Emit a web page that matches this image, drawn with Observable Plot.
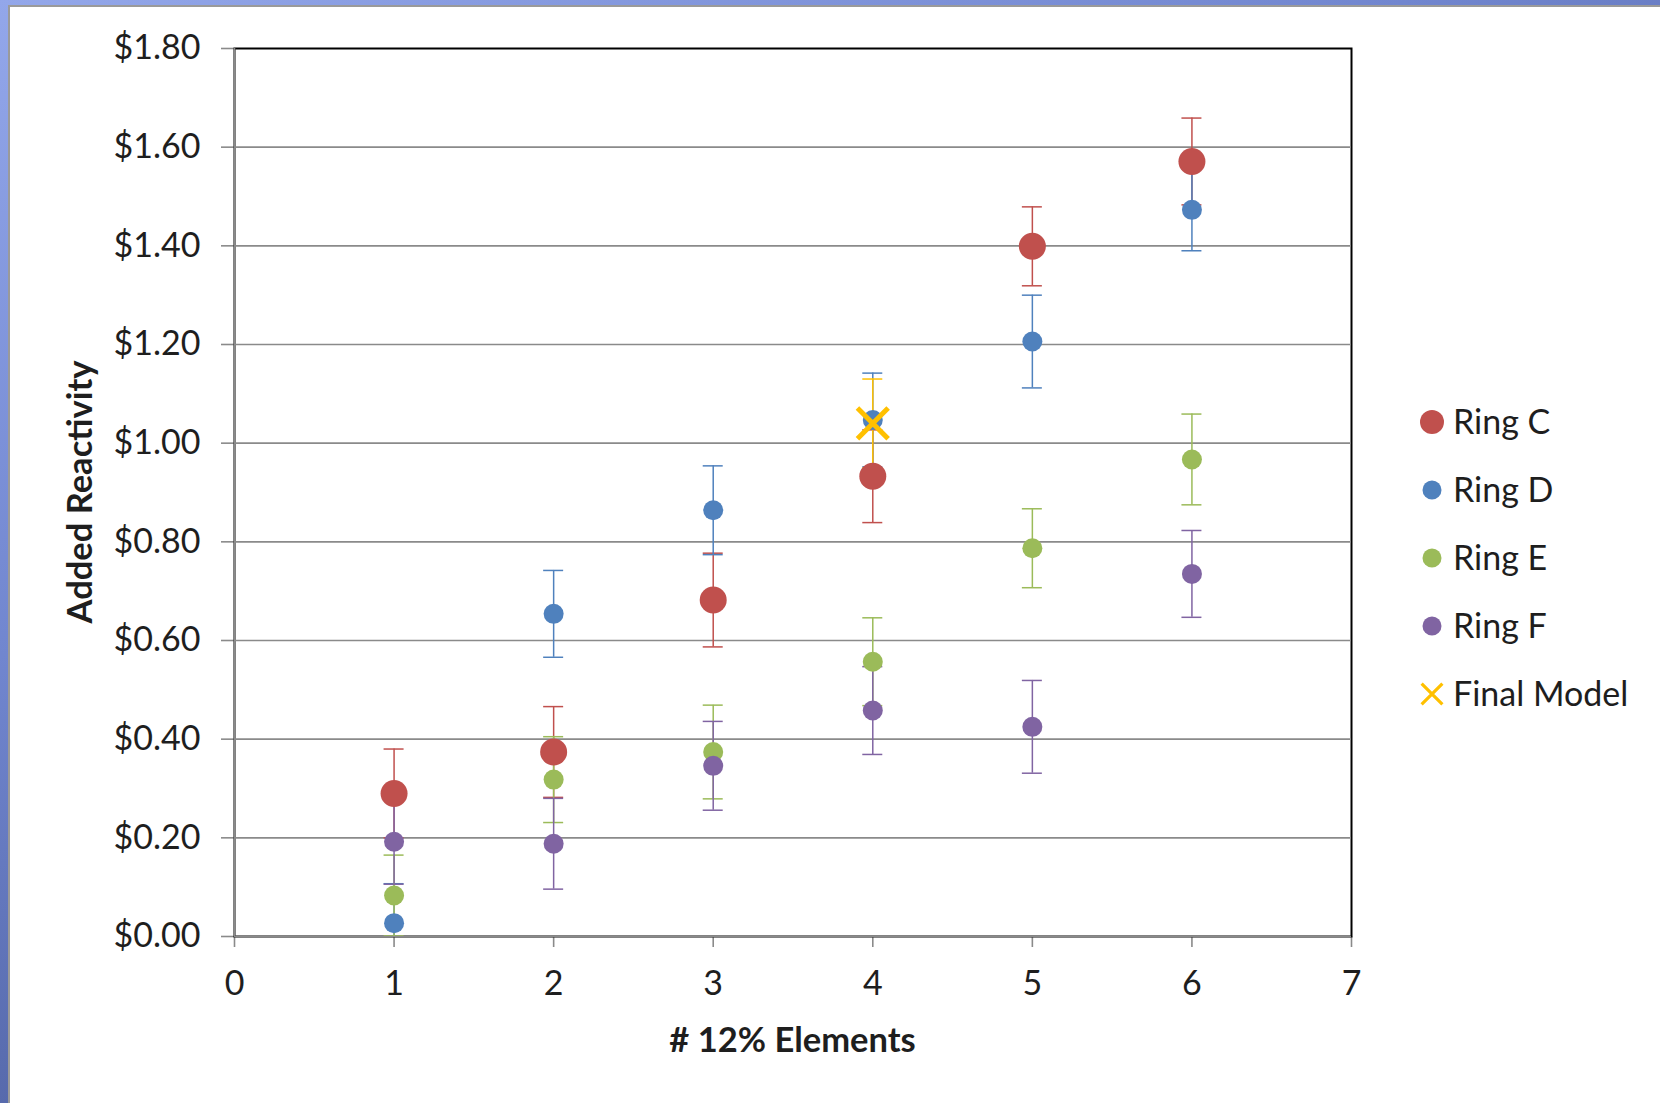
<!DOCTYPE html>
<html>
<head>
<meta charset="utf-8">
<script src="https://cdn.jsdelivr.net/npm/d3@7"></script>
<script src="https://cdn.jsdelivr.net/npm/@observablehq/plot@0.6"></script>
<style>
  html, body { margin: 0; padding: 0; width: 1660px; height: 1103px; overflow: hidden; }
  body { background: linear-gradient(155deg, #93a7ea 0%, #7186cf 35%, #4b5d9c 70%, #3a4a82 100%); position: relative; }
  #frame { position: absolute; left: 8px; top: 5px; width: 1652px; height: 1098px;
           border-left: 2px solid #9a9a9a; border-top: 2px solid #9a9a9a; background: #fff; }
  #chart { position: absolute; left: 0; top: 0; }
</style>
</head>
<body>
<div id="frame"><div id="chart"></div></div>
<script>
// ---- data ----
const xValues = [1, 2, 3, 4, 5, 6];
const ringC = [0.290, 0.374, 0.682, 0.933, 1.399, 1.571];
const ringD = [0.027, 0.654, 0.864, 1.047, 1.206, 1.473];
const ringE = [0.083, 0.318, 0.374, 0.557, 0.787, 0.967];
const ringF = [0.192, 0.188, 0.346, 0.458, 0.425, 0.735];
const ringCErr = [0.090, 0.092, 0.095, 0.094, 0.080, 0.088];
const ringDErr = [0.080, 0.088, 0.090, 0.095, 0.094, 0.083];
const ringEErr = [0.082, 0.087, 0.095, 0.089, 0.080, 0.092];
const ringFErr = [0.086, 0.092, 0.090, 0.089, 0.094, 0.088];
const finalX = [4];
const finalModel = [1.040];
const finalErr = [0.090];
const seriesNames = ["Ring C", "Ring D", "Ring E", "Ring F", "Final Model"];
const xTicks = [0, 1, 2, 3, 4, 5, 6, 7];
const yTicks = [0, 0.2, 0.4, 0.6, 0.8, 1.0, 1.2, 1.4, 1.6, 1.8];
const xTitle = "# 12% Elements";
const yTitle = "Added Reactivity";

// ---- styles ----
const colors = ["#C0504D", "#4F81BD", "#9BBB59", "#8064A2", "#FFC000"];
const radii = [13.5, 10, 10, 10, 14];
const FONT = "Lato, 'Open Sans', sans-serif";
const textColor = "#1e1e1e";
const gridColor = "#8a8a8a";

const values = [ringC, ringD, ringE, ringF];
const errs = [ringCErr, ringDErr, ringEErr, ringFErr];
const tables = values.map((vals, si) =>
  xValues.map((x, i) => ({series: seriesNames[si], x, y: vals[i], err: errs[si][i]})));
tables.push(finalX.map((x, i) => ({series: seriesNames[4], x, y: finalModel[i], err: finalErr[i]})));

const barMarks = tables.flatMap((t, si) => [
  Plot.ruleX(t, {x: "x", y1: d => d.y - d.err, y2: d => d.y + d.err, stroke: colors[si], strokeWidth: 1.5, clip: true}),
  Plot.ruleY(t, {y: d => d.y + d.err, x1: "x", x2: "x", insetLeft: -10, insetRight: -10, stroke: colors[si], strokeWidth: 1.5, clip: true}),
  Plot.ruleY(t, {y: d => d.y - d.err, x1: "x", x2: "x", insetLeft: -10, insetRight: -10, stroke: colors[si], strokeWidth: 1.5, clip: true})
]);
const dotMarks = tables.map((t, si) => si < 4
  ? Plot.dot(t, {x: "x", y: "y", r: radii[si], fill: colors[si], stroke: "none"})
  : Plot.dot(t, {x: "x", y: "y", r: radii[si], symbol: "times", stroke: colors[si], strokeWidth: 5}));

const W = 1650, H = 1096;
const plot = Plot.plot({
  width: W, height: H,
  marginLeft: 224, marginTop: 41, marginRight: 309, marginBottom: 167,
  style: {background: "transparent", fontFamily: FONT, fontSize: "34px", color: gridColor, overflow: "visible"},
  x: {domain: [0, 7], ticks: xTicks, tickSize: 11, tickPadding: 23, label: null, tickFormat: d => String(d)},
  y: {domain: [0, 1.8], ticks: yTicks, tickSize: 13, tickPadding: 21, label: null, tickFormat: d => "$" + d.toFixed(2)},
  marks: [
    Plot.frame({stroke: "#000", strokeWidth: 2}),
    Plot.ruleY(yTicks.filter(d => d > 0 && d < 1.8), {stroke: gridColor, strokeWidth: 1.6}),
    Plot.ruleX([0], {stroke: gridColor, strokeWidth: 1.6}),
    Plot.ruleY([0], {stroke: gridColor, strokeWidth: 1.6}),
    ...barMarks,
    ...dotMarks
  ]
});

const svg = d3.select(plot);
svg.selectAll("text").attr("fill", textColor).style("font-family", FONT).style("font-size", "34px");
svg.selectAll("g[aria-label*='axis'] line, g[aria-label*='axis'] path").attr("stroke", gridColor).attr("stroke-width", 1.6);

// axis titles
const xs = plot.scale("x"), ys = plot.scale("y");
const cx = (xs.range[0] + xs.range[1]) / 2;
const cy = (ys.range[0] + ys.range[1]) / 2;
svg.append("text").text(xTitle)
  .attr("x", cx).attr("y", H - 51)
  .attr("text-anchor", "middle").attr("fill", textColor)
  .style("font-family", FONT).style("font-size", "34.5px").style("font-weight", "bold");
svg.append("text").text(yTitle)
  .attr("transform", `translate(82,${cy}) rotate(-90)`)
  .attr("text-anchor", "middle").attr("fill", textColor)
  .style("font-family", FONT).style("font-size", "34.5px").style("font-weight", "bold");

// legend
const lg = svg.append("g");
seriesNames.forEach((name, i) => {
  const ly = 415 + i * 68;
  if (i < 4) {
    lg.append("circle").attr("cx", 1422).attr("cy", ly).attr("r", i === 0 ? 12 : 9.5).attr("fill", colors[i]);
  } else {
    lg.append("path").attr("d", d3.symbol(d3.symbolTimes, Math.PI * 9.5 * 9.5)())
      .attr("transform", `translate(1422,${ly})`).attr("fill", "none")
      .attr("stroke", colors[i]).attr("stroke-width", 3.2);
  }
  lg.append("text").text(name).attr("x", 1443).attr("y", ly).attr("dy", "0.35em")
    .attr("text-anchor", "start")
    .attr("fill", textColor).style("font-family", FONT).style("font-size", "34px");
});

document.getElementById("chart").appendChild(plot);
</script>
</body>
</html>
